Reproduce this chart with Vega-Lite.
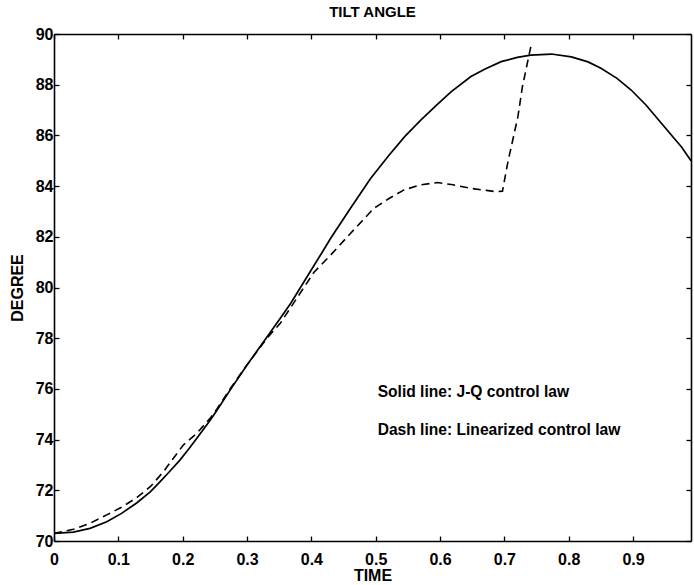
{
  "$schema": "https://vega.github.io/schema/vega-lite/v6.json",
  "width": 637,
  "height": 507,
  "autosize": "none",
  "padding": {"left": 54, "top": 34, "right": 3, "bottom": 44},
  "background": "white",
  "title": {"text": "TILT ANGLE", "font": "Liberation Sans", "fontSize": 15, "fontWeight": "bold", "color": "black", "anchor": "middle", "offset": 6},
  "config": {
    "view": {"stroke": null},
    "axis": {
      "grid": false,
      "domainColor": "black",
      "domainWidth": 1.6,
      "tickColor": "black",
      "tickWidth": 1.3,
      "tickSize": -5,
      "labelFont": "Liberation Sans",
      "labelFontSize": 16,
      "labelFontWeight": "bold",
      "labelColor": "black",
      "labelFlush": false,
      "labelOverlap": false,
      "titleFont": "Liberation Sans",
      "titleFontSize": 16,
      "titleFontWeight": "bold",
      "titleColor": "black"
    }
  },
  "data": {
    "values": [
      {"t": 0, "v": 70.30, "series": "solid"},
      {"t": 0.03, "v": 70.35, "series": "solid"},
      {"t": 0.056, "v": 70.50, "series": "solid"},
      {"t": 0.082, "v": 70.76, "series": "solid"},
      {"t": 0.105, "v": 71.09, "series": "solid"},
      {"t": 0.129, "v": 71.51, "series": "solid"},
      {"t": 0.15, "v": 71.95, "series": "solid"},
      {"t": 0.165, "v": 72.34, "series": "solid"},
      {"t": 0.18, "v": 72.75, "series": "solid"},
      {"t": 0.196, "v": 73.2, "series": "solid"},
      {"t": 0.21, "v": 73.65, "series": "solid"},
      {"t": 0.222, "v": 74.05, "series": "solid"},
      {"t": 0.243, "v": 74.77, "series": "solid"},
      {"t": 0.253, "v": 75.15, "series": "solid"},
      {"t": 0.275, "v": 76.0, "series": "solid"},
      {"t": 0.3, "v": 76.94, "series": "solid"},
      {"t": 0.331, "v": 78.05, "series": "solid"},
      {"t": 0.352, "v": 78.8, "series": "solid"},
      {"t": 0.368, "v": 79.38, "series": "solid"},
      {"t": 0.4, "v": 80.7, "series": "solid"},
      {"t": 0.419, "v": 81.48, "series": "solid"},
      {"t": 0.43, "v": 81.94, "series": "solid"},
      {"t": 0.46, "v": 83.1, "series": "solid"},
      {"t": 0.492, "v": 84.3, "series": "solid"},
      {"t": 0.52, "v": 85.2, "series": "solid"},
      {"t": 0.545, "v": 85.95, "series": "solid"},
      {"t": 0.57, "v": 86.6, "series": "solid"},
      {"t": 0.595, "v": 87.2, "series": "solid"},
      {"t": 0.617, "v": 87.72, "series": "solid"},
      {"t": 0.648, "v": 88.32, "series": "solid"},
      {"t": 0.67, "v": 88.62, "series": "solid"},
      {"t": 0.695, "v": 88.91, "series": "solid"},
      {"t": 0.72, "v": 89.08, "series": "solid"},
      {"t": 0.741, "v": 89.17, "series": "solid"},
      {"t": 0.773, "v": 89.21, "series": "solid"},
      {"t": 0.804, "v": 89.1, "series": "solid"},
      {"t": 0.83, "v": 88.9, "series": "solid"},
      {"t": 0.85, "v": 88.65, "series": "solid"},
      {"t": 0.875, "v": 88.25, "series": "solid"},
      {"t": 0.897, "v": 87.79, "series": "solid"},
      {"t": 0.92, "v": 87.2, "series": "solid"},
      {"t": 0.944, "v": 86.48, "series": "solid"},
      {"t": 0.965, "v": 85.85, "series": "solid"},
      {"t": 0.975, "v": 85.55, "series": "solid"},
      {"t": 0.99, "v": 85.0, "series": "solid"},
      {"t": 0, "v": 70.30, "series": "dash"},
      {"t": 0.03, "v": 70.46, "series": "dash"},
      {"t": 0.056, "v": 70.70, "series": "dash"},
      {"t": 0.082, "v": 71.03, "series": "dash"},
      {"t": 0.105, "v": 71.33, "series": "dash"},
      {"t": 0.129, "v": 71.72, "series": "dash"},
      {"t": 0.15, "v": 72.15, "series": "dash"},
      {"t": 0.17, "v": 72.73, "series": "dash"},
      {"t": 0.201, "v": 73.79, "series": "dash"},
      {"t": 0.222, "v": 74.25, "series": "dash"},
      {"t": 0.243, "v": 74.85, "series": "dash"},
      {"t": 0.253, "v": 75.2, "series": "dash"},
      {"t": 0.275, "v": 76.05, "series": "dash"},
      {"t": 0.3, "v": 76.95, "series": "dash"},
      {"t": 0.331, "v": 78.0, "series": "dash"},
      {"t": 0.352, "v": 78.6, "series": "dash"},
      {"t": 0.378, "v": 79.6, "series": "dash"},
      {"t": 0.404, "v": 80.6, "series": "dash"},
      {"t": 0.43, "v": 81.28, "series": "dash"},
      {"t": 0.461, "v": 82.14, "series": "dash"},
      {"t": 0.497, "v": 83.12, "series": "dash"},
      {"t": 0.52, "v": 83.5, "series": "dash"},
      {"t": 0.544, "v": 83.85, "series": "dash"},
      {"t": 0.57, "v": 84.05, "series": "dash"},
      {"t": 0.596, "v": 84.14, "series": "dash"},
      {"t": 0.62, "v": 84.05, "series": "dash"},
      {"t": 0.648, "v": 83.91, "series": "dash"},
      {"t": 0.672, "v": 83.83, "series": "dash"},
      {"t": 0.687, "v": 83.78, "series": "dash"},
      {"t": 0.697, "v": 83.8, "series": "dash"},
      {"t": 0.705, "v": 84.9, "series": "dash"},
      {"t": 0.713, "v": 85.82, "series": "dash"},
      {"t": 0.721, "v": 86.74, "series": "dash"},
      {"t": 0.728, "v": 87.92, "series": "dash"},
      {"t": 0.741, "v": 89.5, "series": "dash"}
    ]
  },
  "layer": [
    {
      "transform": [{"filter": "datum.series == 'solid'"}],
      "mark": {"type": "line", "stroke": "black", "strokeWidth": 1.7, "clip": true},
      "encoding": {
        "x": {"field": "t", "type": "quantitative", "scale": {"domain": [0, 0.99], "nice": false, "zero": false},
              "axis": {"orient": "bottom", "title": "TIME", "values": [0, 0.1, 0.2, 0.3, 0.4, 0.5, 0.6, 0.7, 0.8, 0.9], "format": ".1~f", "labelPadding": 15, "titlePadding": 0}},
        "y": {"field": "v", "type": "quantitative", "scale": {"domain": [70, 90], "nice": false, "zero": false},
              "axis": {"orient": "left", "title": "DEGREE", "values": [70, 72, 74, 76, 78, 80, 82, 84, 86, 88, 90], "labelPadding": 6, "titlePadding": 10}}
      }
    },
    {
      "transform": [{"filter": "datum.series == 'dash'"}],
      "mark": {"type": "line", "stroke": "black", "strokeWidth": 1.6, "strokeDash": [8, 5], "clip": true},
      "encoding": {
        "x": {"field": "t", "type": "quantitative",
              "axis": {"orient": "top", "title": null, "labels": false, "values": [0, 0.1, 0.2, 0.3, 0.4, 0.5, 0.6, 0.7, 0.8, 0.9]}},
        "y": {"field": "v", "type": "quantitative",
              "axis": {"orient": "right", "title": null, "labels": false, "values": [70, 72, 74, 76, 78, 80, 82, 84, 86, 88, 90]}}
      }
    },
    {
      "data": {"values": [
        {"t": 0.503, "v": 75.68, "label": "Solid line: J-Q control law"},
        {"t": 0.503, "v": 74.18, "label": "Dash line: Linearized control law"}
      ]},
      "mark": {"type": "text", "align": "left", "baseline": "alphabetic", "font": "Liberation Sans", "fontSize": 15.6, "fontWeight": "bold", "color": "black"},
      "encoding": {
        "x": {"field": "t", "type": "quantitative", "axis": null},
        "y": {"field": "v", "type": "quantitative", "axis": null},
        "text": {"field": "label"}
      }
    }
  ],
  "resolve": {"axis": {"x": "independent", "y": "independent"}}
}
